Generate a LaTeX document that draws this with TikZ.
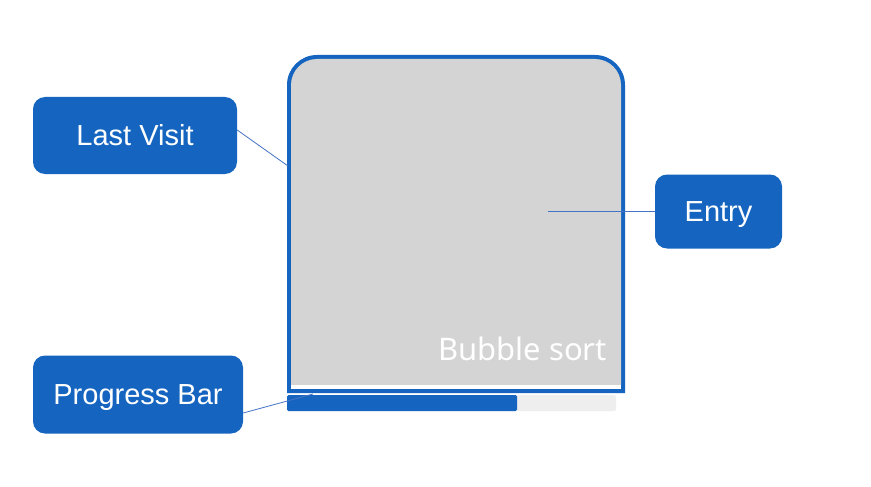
\documentclass[tikz,border=0pt]{standalone}
\usepackage{fontspec}
\setmainfont{Liberation Sans}
\newfontfamily\cardfont{Noto Sans}
\usetikzlibrary{calc}
\definecolor{mdblue}{HTML}{1565C0}
\definecolor{cardgray}{HTML}{D4D4D4}
\definecolor{trackgray}{HTML}{EEEEEE}
\definecolor{leader}{HTML}{4472C4}
\begin{document}
\begin{tikzpicture}[x=1pt,y=-1pt,
  callout/.style={fill=mdblue,rounded corners=12pt,text=white,
    font=\fontsize{29}{33}\selectfont,inner sep=0pt,align=center,
    text height=20.8pt,text depth=0pt},
  leaderline/.style={draw=leader,line width=0.8pt}]
\useasboundingbox[fill=white] (0,0) rectangle (871,487);

% card frame with rounded top corners (y axis points down)
\fill[mdblue] (287,393) -- (287,85) arc[start angle=180,end angle=270,radius=30]
  -- (595,55) arc[start angle=270,end angle=360,radius=30] -- (625,393) -- cycle;
\fill[cardgray] (291,385) -- (291,85) arc[start angle=180,end angle=270,radius=26]
  -- (595,59) arc[start angle=270,end angle=360,radius=26] -- (621,385) -- cycle;
\fill[white] (291,385) rectangle (621,389);
\node[anchor=base east,text=white,inner sep=0pt,
  font=\cardfont\fontsize{31}{36}\selectfont] (title) at (607,360) {Bubble sort};

% progress bar
\fill[trackgray,rounded corners=1.5pt] (287,395) rectangle (616,411);
\fill[mdblue,rounded corners=1.5pt] (287,395) rectangle (517,411);

% callouts
\node[callout,minimum width=204pt,minimum height=77pt] (lv) at (135,135.5) {Last Visit};
\node[callout,minimum width=210pt,minimum height=78pt] (pb) at (138,394.5) {Progress Bar};
\node[callout,minimum width=127pt,minimum height=74pt] (en) at (718.5,211.5) {Entry};

% leader lines
\coordinate (lvEnd) at (288,166);
\coordinate (enEnd) at (548,211.5);
\coordinate (pbEnd) at (313,394);
\draw[leaderline] ($(lv.east)+(0,-5.5)$) -- (lvEnd);
\draw[leaderline] (en.west) -- (enEnd);
\draw[leaderline] ($(pb.east)+(0,18.5)$) -- (pbEnd);
\end{tikzpicture}
\end{document}
